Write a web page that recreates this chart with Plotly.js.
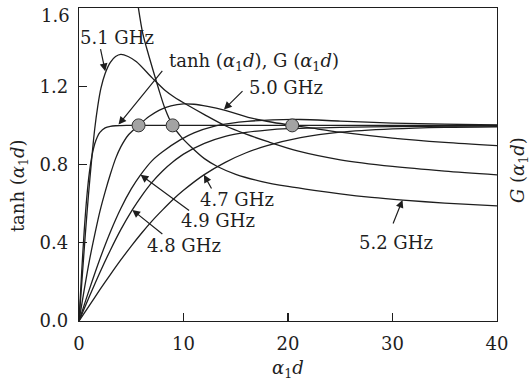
<!DOCTYPE html>
<html>
<head>
<meta charset="utf-8">
<script src="https://cdn.plot.ly/plotly-3.0.1.min.js"></script>
<style>html,body{margin:0;padding:0;background:#fff;}#plot{width:530px;height:383px;}</style>
</head>
<body>
<div id="plot"></div>
<script>
// tanh(α1 d)
const tanhX = [0,0.25,0.5,0.75,1,1.25,1.5,1.75,2,2.5,3,3.5,4,5,6,8,10,15,20,30,40];
const tanhY = [0,0.245,0.462,0.635,0.762,0.848,0.905,0.941,0.964,0.987,0.995,0.998,0.999,1,1,1,1,1,1,1,1];

// G(α1 d) curves, one per frequency
const g51X = [0,0.3,0.6,0.9,1.2,1.5,1.8,2.1,2.5,3,3.5,4,4.7,5.5,7,8.25,9.1,10.5,12,14,16,18,21,25,30,35,40];
const g51Y = [0,0.22,0.44,0.64,0.82,0.98,1.1,1.19,1.265,1.322,1.352,1.363,1.352,1.325,1.243,1.178,1.145,1.1,1.055,0.998,0.955,0.918,0.868,0.824,0.79,0.766,0.747];

const g50X = [0,0.5,1,1.5,2,2.5,3,3.5,4,4.74,5.7,6.7,7.7,8.8,10,11,12.3,13.9,16.4,18.5,20.4,22,25,30,35,40];
const g50Y = [0,0.16,0.31,0.44,0.56,0.66,0.75,0.83,0.89,0.952,1.0,1.045,1.078,1.1,1.11,1.108,1.097,1.078,1.038,1.016,1.0,0.988,0.965,0.935,0.913,0.896];

const g52X = [5.6,6.1,6.66,7.6,8.2,8.96,9.8,10.68,12,13.24,15,17.5,20,22.5,25,28,31,35,40];
const g52Y = [1.63,1.47,1.36,1.19,1.09,1.0,0.94,0.892,0.83,0.79,0.75,0.713,0.688,0.668,0.65,0.632,0.618,0.603,0.588];

const g49X = [0,1,2,3,4,5,5.89,7,8,9.72,11,12.9,14.5,16.1,18.5,21.2,25,30,35,40];
const g49Y = [0,0.163,0.317,0.455,0.575,0.675,0.747,0.82,0.865,0.927,0.962,0.995,1.01,1.02,1.028,1.03,1.022,1.012,1.006,1.002];

const g48X = [0,1,2,3,4,5.1,6,7,8,9,10,12,14,16,18,20,25,30,40];
const g48Y = [0,0.126,0.248,0.362,0.467,0.568,0.64,0.71,0.767,0.814,0.853,0.908,0.944,0.964,0.976,0.983,0.99,0.994,0.997];

const g47X = [0,1,2,3,4,5,6,7,8,9,10,11.95,14,16,18,21.2,25,30,35,40];
const g47Y = [0,0.08,0.16,0.237,0.312,0.383,0.45,0.512,0.568,0.621,0.668,0.747,0.811,0.86,0.896,0.937,0.965,0.982,0.99,0.993];

// solution points (G = tanh)
const dotX = [5.7, 8.96, 20.4];
const dotY = [1.0, 1.0, 1.0];

// labels
const labelText = ['5.1 GHz','tanh (<i>α</i><sub>1</sub><i>d</i>), G (<i>α</i><sub>1</sub><i>d</i>)','5.0 GHz','4.7 GHz','4.9 GHz','4.8 GHz','5.2 GHz'];
const labelX = [3.62, 16.74, 19.78, 15.15, 13.31, 10.04, 30.32];
const labelY = [1.448, 1.324, 1.196, 0.623, 0.516, 0.388, 0.401];
// arrows: tail -> tip
const arrowTailX = [2.03, 8.09, 15.79, 12.76, 10.68, 8.12, 30.0];
const arrowTailY = [1.397, 1.286, 1.183, 0.670, 0.559, 0.439, 0.491];
const arrowTipX = [2.51, 3.78, 13.87, 11.95, 5.89, 5.10, 30.96];
const arrowTipY = [1.277, 1.004, 1.081, 0.747, 0.747, 0.568, 0.619];

const xTicks = [0,10,20,30,40];
const yTicks = [0,0.4,0.8,1.2,1.6];
const yTickLabels = ['0.0','0.4','0.8','1.2','1.6'];

const FONT = 'DejaVu Serif, Liberation Serif, serif';
const INK = '#1e1e1e';
const lineStyle = {color: INK, width: 1.3, shape: 'spline', smoothing: 0.8};

function curve(x, y, name) {
  return {x: x, y: y, name: name, type: 'scatter', mode: 'lines', line: lineStyle, hoverinfo: 'skip'};
}

const traces = [
  curve(tanhX, tanhY, 'tanh'),
  curve(g51X, g51Y, '5.1 GHz'),
  curve(g50X, g50Y, '5.0 GHz'),
  curve(g52X, g52Y, '5.2 GHz'),
  curve(g49X, g49Y, '4.9 GHz'),
  curve(g48X, g48Y, '4.8 GHz'),
  curve(g47X, g47Y, '4.7 GHz'),
  {x: dotX, y: dotY, type: 'scatter', mode: 'markers', name: 'solutions',
   marker: {size: 13, color: '#a3a3a3', line: {color: '#333', width: 1}}, hoverinfo: 'skip'}
];

const annotations = [];
for (let i = 0; i < labelText.length; i++) {
  annotations.push({x: labelX[i], y: labelY[i], xref: 'x', yref: 'y', text: labelText[i],
    showarrow: false, xanchor: 'center', yanchor: 'middle',
    font: {family: FONT, size: 18, color: INK}});
  annotations.push({x: arrowTipX[i], y: arrowTipY[i], xref: 'x', yref: 'y',
    ax: arrowTailX[i], ay: arrowTailY[i], axref: 'x', ayref: 'y', text: '',
    showarrow: true, arrowhead: 2, arrowsize: 1.3, arrowwidth: 1.2, arrowcolor: INK, standoff: 0});
}
// top y tick label, nudged down so it stays inside the picture (as in the reference)
const last = yTicks.length - 1;
annotations.push({xref: 'paper', yref: 'y', x: 0, y: yTicks[last], xanchor: 'right', yanchor: 'top',
  xshift: -7, yshift: 5, text: yTickLabels[last], showarrow: false, font: {family: FONT, size: 18, color: INK}});
// axis titles
annotations.push({xref: 'paper', yref: 'paper', x: 0.5, y: -0.153, xanchor: 'center', yanchor: 'middle',
  text: '<i>α</i><sub>1</sub><i>d</i>', showarrow: false, font: {family: FONT, size: 18, color: INK}});
annotations.push({xref: 'paper', yref: 'paper', x: -0.1435, y: 0.431, xanchor: 'center', yanchor: 'middle',
  textangle: -90, text: 'tanh (<i>α</i><sub>1</sub><i>d</i>)', showarrow: false, font: {family: FONT, size: 18, color: INK}});
annotations.push({xref: 'paper', yref: 'paper', x: 1.0526, y: 0.482, xanchor: 'center', yanchor: 'middle',
  textangle: -90, text: '<i>G</i> (<i>α</i><sub>1</sub><i>d</i>)', showarrow: false, font: {family: FONT, size: 18, color: INK}});

const layout = {
  width: 530, height: 383,
  margin: {l: 79, r: 33, t: 8, b: 62, pad: 0},
  paper_bgcolor: '#fff', plot_bgcolor: '#fff',
  showlegend: false,
  font: {family: FONT, size: 18, color: INK},
  xaxis: {range: [0, 40], tickvals: xTicks, ticks: 'inside', ticklen: 8, tickwidth: 1.3, tickcolor: INK,
    showline: true, mirror: true, linewidth: 1.3, linecolor: INK, showgrid: false, zeroline: false,
    ticklabelstandoff: 6, ticklabeloverflow: 'allow', tickfont: {family: FONT, size: 18, color: INK}, fixedrange: true},
  yaxis: {range: [0, 1.6], tickvals: yTicks, ticktext: yTickLabels.slice(0, last).concat(['']),
    ticks: 'inside', ticklen: 8, tickwidth: 1.3, tickcolor: INK,
    showline: true, mirror: true, linewidth: 1.3, linecolor: INK, showgrid: false, zeroline: false,
    ticklabelstandoff: 6, ticklabeloverflow: 'allow', tickfont: {family: FONT, size: 18, color: INK}, fixedrange: true},
  annotations: annotations
};

Plotly.newPlot('plot', traces, layout, {displayModeBar: false, staticPlot: true});
</script>
</body>
</html>
